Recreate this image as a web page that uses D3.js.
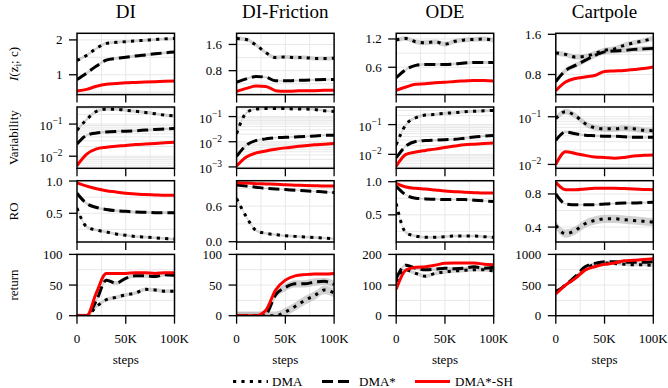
<!DOCTYPE html>
<html><head><meta charset="utf-8">
<script src="https://cdn.jsdelivr.net/npm/d3@7"></script>
<style>body{margin:0;background:#fff} svg text{font-family:'Liberation Serif','DejaVu Serif',serif;fill:#000}</style>
</head><body><svg id="c" width="668" height="388" font-family="Liberation Serif, DejaVu Serif, serif"></svg>
<script>
// ---------------- data ----------------
const envs = ["DI", "DI-Friction", "ODE", "Cartpole"];
const methods = ["DMA", "DMA*", "DMA*-SH"];
const stepsK = [0, 10, 20, 30, 40, 50, 60, 70, 80, 90, 100];
const xTickVals = [0, 50, 100];
const xTickLabels = ["0", "50K", "100K"];
const xLabel = "steps";

// I(z_i; c)  [DMA, DMA*, DMA*-SH]
const I_DI  = [[1.41,1.56,1.76,1.9,1.93,1.95,1.97,1.99,2.01,2.03,2.04],
               [0.86,1.05,1.25,1.42,1.47,1.5,1.54,1.57,1.6,1.63,1.65],
               [0.53,0.58,0.67,0.73,0.75,0.77,0.78,0.79,0.8,0.81,0.82]];
const I_DIF = [[1.78,1.75,1.58,1.35,1.2,1.22,1.2,1.2,1.17,1.17,1.18],
               [0.45,0.55,0.62,0.6,0.49,0.49,0.5,0.51,0.52,0.53,0.53],
               [0.17,0.26,0.33,0.32,0.19,0.17,0.18,0.19,0.19,0.2,0.2]];
const I_ODE = [[1.18,1.21,1.14,1.12,1.14,1.09,1.15,1.18,1.19,1.2,1.17],
               [0.38,0.55,0.64,0.66,0.66,0.66,0.67,0.69,0.7,0.7,0.7],
               [0.11,0.18,0.24,0.25,0.27,0.28,0.3,0.31,0.32,0.32,0.31]];
const I_CP  = [[1.23,1.2,1.15,1.16,1.22,1.28,1.31,1.38,1.43,1.47,1.52],
               [0.66,0.88,0.98,1.08,1.18,1.25,1.27,1.28,1.3,1.31,1.32],
               [0.48,0.65,0.72,0.75,0.78,0.86,0.87,0.88,0.9,0.92,0.95]];

// Variability
const V_DI  = [[0.064,0.14,0.25,0.29,0.29,0.27,0.25,0.23,0.21,0.19,0.18],
               [0.024,0.045,0.053,0.057,0.059,0.06,0.062,0.065,0.068,0.07,0.073],
               [0.0051,0.0116,0.0168,0.019,0.0205,0.0215,0.023,0.024,0.025,0.026,0.027]];
const V_DIF = [[0.021,0.14,0.2,0.21,0.21,0.21,0.2,0.2,0.19,0.17,0.16],
               [0.0026,0.0073,0.0112,0.013,0.0145,0.015,0.0155,0.016,0.017,0.018,0.018],
               [0.0011,0.0025,0.0036,0.0043,0.005,0.0057,0.0063,0.007,0.0076,0.008,0.0085]];
const V_ODE = [[0.021,0.1,0.17,0.21,0.22,0.24,0.25,0.27,0.28,0.29,0.3],
               [0.0077,0.019,0.027,0.029,0.03,0.031,0.032,0.035,0.038,0.041,0.043],
               [0.004,0.01,0.012,0.0135,0.015,0.017,0.019,0.021,0.022,0.023,0.024]];
const V_CP  = [[0.092,0.128,0.105,0.072,0.059,0.056,0.056,0.058,0.056,0.052,0.051],
               [0.032,0.048,0.044,0.041,0.04,0.039,0.039,0.038,0.037,0.037,0.037],
               [0.01,0.0184,0.017,0.0155,0.0143,0.014,0.0135,0.014,0.015,0.0155,0.0158]];

// RO
const RO_DI  = [[0.58,0.29,0.24,0.21,0.18,0.16,0.14,0.13,0.12,0.11,0.1],
                [0.81,0.65,0.59,0.56,0.54,0.53,0.52,0.515,0.51,0.51,0.51],
                [0.97,0.92,0.88,0.85,0.83,0.81,0.8,0.79,0.785,0.78,0.78]];
const RO_DIF = [[0.73,0.42,0.19,0.14,0.12,0.1,0.09,0.08,0.07,0.06,0.05],
                [0.957,0.94,0.92,0.9,0.89,0.88,0.87,0.86,0.85,0.84,0.83],
                [0.996,0.99,0.98,0.975,0.97,0.96,0.955,0.95,0.945,0.94,0.94]];
const RO_ODE = [[0.67,0.23,0.18,0.16,0.16,0.17,0.18,0.18,0.18,0.17,0.16],
                [0.93,0.8,0.75,0.74,0.735,0.73,0.73,0.73,0.72,0.71,0.7],
                [0.975,0.92,0.9,0.89,0.875,0.86,0.85,0.84,0.835,0.83,0.83]];
const RO_CP  = [[0.42,0.32,0.36,0.44,0.48,0.5,0.5,0.49,0.48,0.47,0.46],
                [0.8,0.68,0.67,0.67,0.67,0.68,0.685,0.69,0.69,0.695,0.7],
                [0.94,0.85,0.85,0.86,0.87,0.87,0.87,0.865,0.86,0.855,0.85]];

// return
const R_DI  = [[0,0,15,26,30,34,37,43,42,40,40],
               [0,0,25,58,53,61,65,65,64,67,66],
               [0,0,38,69,69,69,70,70,69,70,70]];
const R_DIF = [[0,0,0,0,0,6,15,25,33,42,37],
               [0,0,0,3,34,46,52,52,55,56,51],
               [0,0,0,9,42,58,65,67,68,68,69]];
const R_ODE = [[111,149,138,129,138,143,146,148,150,150,146],
               [122,165,155,150,152,155,153,155,160,155,158],
               [86,149,158,160,165,171,172,172,172,168,166]];
const R_CP  = [[390,500,620,760,840,860,850,840,830,830,820],
               [390,500,640,798,853,880,880,875,870,870,880],
               [354,500,609,744,799,837,860,896,905,915,928]];

// band half-widths (log row: multiplicative factor)
const BAND_I  = [[0.04,0.04,0.01],[0.06,0.03,0.01],[0.05,0.03,0.01],[0.05,0.05,0.01]];
const BAND_V  = [[1.12,1.08,1.03],[1.1,1.08,1.03],[1.12,1.08,1.03],[1.15,1.06,1.03]];
const BAND_RO = [[0.02,0.02,0.005],[0.02,0.01,0.005],[0.02,0.01,0.005],[0.05,0.01,0.005]];
const BAND_R  = [[3,3,1],[7,6,2],[6,5,2],[25,15,8]];

// axis ticks / domains
const TICKS_I  = [[1,2],[0.8,1.6],[0.6,1.2],[0.8,1.6]];
const LABS_I   = [["1","2"],["0.8","1.6"],["0.6","1.2"],["0.8","1.6"]];
const DOM_I    = [[0.43,2.19],[0.07,1.94],[0.02,1.32],[0.4,1.62]];
const TICKS_V  = [[0.01,0.1],[0.001,0.01,0.1],[0.01,0.1],[0.01,0.1]];
const DOM_V    = [[0.0042,0.34],[0.00088,0.24],[0.0034,0.39],[0.0083,0.16]];
const TICKS_RO = [[0.5,1.0],[0.0,0.6],[0.5,1.0],[0.4,0.8]];
const LABS_RO  = [["0.5","1.0"],["0.0","0.6"],["0.5","1.0"],["0.4","0.8"]];
const DOM_RO   = [[0.055,1.005],[-0.005,1.03],[0.09,1.015],[0.22,0.96]];
const TICKS_R  = [[0,50,100],[0,50,100],[0,100,200],[0,500,1000]];
const LABS_R   = [["0","50","100"],["0","50","100"],["0","100","200"],["0","500","1000"]];
const DOM_R    = [[0,100],[0,100],[0,200],[0,1000]];

const rows = [
  {data:[I_DI,I_DIF,I_ODE,I_CP], band:BAND_I, ticks:TICKS_I, labs:LABS_I, dom:DOM_I, log:false},
  {data:[V_DI,V_DIF,V_ODE,V_CP], band:BAND_V, ticks:TICKS_V, labs:null, dom:DOM_V, log:true},
  {data:[RO_DI,RO_DIF,RO_ODE,RO_CP], band:BAND_RO, ticks:TICKS_RO, labs:LABS_RO, dom:DOM_RO, log:false},
  {data:[R_DI,R_DIF,R_ODE,R_CP], band:BAND_R, ticks:TICKS_R, labs:LABS_R, dom:DOM_R, log:false}
];

// ---------------- layout / style ----------------
const FONT = "Liberation Serif, DejaVu Serif, serif";
const svg = d3.select("#c");
const colLeft = [77, 236.6, 396.2, 555.8];
const rowTop = [33.3, 107.0, 180.7, 254.4];
const W = 97.5, H = 61.3;
const styles = [
  {stroke:"#000", dash:"3.2,5.2", w:3, band:"#b4b4b4", bo:0.6},
  {stroke:"#000", dash:"11,5", w:3, band:"#b4b4b4", bo:0.6},
  {stroke:"#ff0000", dash:null, w:3, band:"#ff8080", bo:0.45}
];
const gridColor = "#e8e8e8";
const x = d3.scaleLinear().domain([0,100]).range([0,W]);

function txt(sel) { return sel.append("text").attr("font-family", FONT).attr("fill", "#000"); }

let clipId = 0;
rows.forEach((row, ri) => {
  envs.forEach((env, ci) => {
    const g = svg.append("g").attr("transform", `translate(${colLeft[ci]},${rowTop[ri]})`);
    const dom = row.dom[ci];
    const y = (row.log ? d3.scaleLog() : d3.scaleLinear()).domain(dom).range([H,0]);

    const xg = [25,50,75];
    let yg = [];
    if (row.log) {
      const e0 = Math.floor(Math.log10(dom[0])), e1 = Math.ceil(Math.log10(dom[1]));
      for (let e = e0; e <= e1; e++) for (let k = 1; k <= 9; k++) {
        const v = k * Math.pow(10, e);
        if (v > dom[0] && v < dom[1]) yg.push(v);
      }
    } else {
      const t = row.ticks[ci];
      const half = (t[1]-t[0])/2;
      for (let v = Math.ceil(dom[0]/half - 1e-9)*half; v <= dom[1]+1e-9; v += half) yg.push(v);
    }
    g.selectAll(".gx").data(xg).join("line").attr("x1",d=>x(d)).attr("x2",d=>x(d))
      .attr("y1",0).attr("y2",H).attr("stroke",gridColor).attr("stroke-width",1);
    g.selectAll(".gy").data(yg).join("line").attr("y1",d=>y(d)).attr("y2",d=>y(d))
      .attr("x1",0).attr("x2",W).attr("stroke",gridColor).attr("stroke-width",1);

    const cid = "clip" + (clipId++);
    g.append("clipPath").attr("id",cid).append("rect").attr("x",0).attr("y",0).attr("width",W).attr("height",H);
    const pg = g.append("g").attr("clip-path",`url(#${cid})`);

    const series = row.data[ci];
    const bands = row.band[ci];
    series.forEach((vals, si) => {
      const b = bands[si];
      const area = d3.area().curve(d3.curveMonotoneX)
        .x((d,i)=>x(stepsK[i]))
        .y0(d => row.log ? y(d/b) : y(d-b))
        .y1(d => row.log ? y(d*b) : y(d+b));
      pg.append("path").attr("d", area(vals)).attr("fill", styles[si].band).attr("opacity", styles[si].bo);
    });
    series.forEach((vals, si) => {
      const line = d3.line().curve(d3.curveMonotoneX).x((d,i)=>x(stepsK[i])).y(d=>y(d));
      const p = pg.append("path").attr("d", line(vals)).attr("fill","none")
        .attr("stroke", styles[si].stroke).attr("stroke-width", styles[si].w);
      if (styles[si].dash) p.attr("stroke-dasharray", styles[si].dash);
    });

    g.append("rect").attr("x",0).attr("y",0).attr("width",W).attr("height",H)
      .attr("fill","none").attr("stroke","#000").attr("stroke-width",1.5);

    const ticks = row.ticks[ci];
    ticks.forEach((t, ti) => {
      g.append("line").attr("x1",-8).attr("x2",0).attr("y1",y(t)).attr("y2",y(t))
        .attr("stroke","#000").attr("stroke-width",1.3);
      const tx = txt(g).attr("x",-14.5).attr("y",y(t)+4.5)
        .attr("text-anchor","end").attr("font-size",13);
      if (row.log) {
        const e = Math.round(Math.log10(t));
        tx.attr("y", y(t)+6);
        tx.append("tspan").text("10");
        tx.append("tspan").attr("dy",-6).attr("font-size",9.5).text("\u2212" + Math.abs(e));
      } else {
        tx.text(row.labs[ci][ti]);
      }
    });
    xTickVals.forEach((t, ti) => {
      g.append("line").attr("x1",x(t)).attr("x2",x(t)).attr("y1",H).attr("y2",H+8)
        .attr("stroke","#000").attr("stroke-width",1.3);
      if (ri === 3) {
        txt(g).attr("x",x(t)).attr("y",H+27.5).attr("text-anchor","middle")
          .attr("font-size",13).text(xTickLabels[ti]);
      }
    });
    if (ri === 3) {
      txt(g).attr("x",W/2).attr("y",H+48.5).attr("text-anchor","middle")
        .attr("font-size",13).text(xLabel);
    }
    if (ri === 0) {
      txt(g).attr("x",W/2).attr("y",-15).attr("text-anchor","middle")
        .attr("font-size",19).text(env);
    }
  });
});

// row labels
const rowLabelX = 18;
rows.forEach((row, ri) => {
  const cy = rowTop[ri] + H/2;
  const t = txt(svg).attr("transform",`translate(${rowLabelX},${cy}) rotate(-90)`)
    .attr("text-anchor","middle").attr("font-size",13);
  if (ri === 0) {
    t.append("tspan").attr("font-style","italic").text("I");
    t.append("tspan").text("(z");
    t.append("tspan").attr("dy",3).attr("font-size",9.5).text("i");
    t.append("tspan").attr("dy",-3).text("; c)");
  } else {
    t.text(["", "Variability", "RO", "return"][ri]);
  }
});

// legend
const legY = 381.5;
const legItems = [
  {x1:233, x2:268, tx:272},
  {x1:322, x2:354, tx:359},
  {x1:415, x2:450, tx:455}
];
methods.forEach((m, i) => {
  const L = legItems[i];
  const ln = svg.append("line").attr("x1",L.x1).attr("x2",L.x2).attr("y1",legY).attr("y2",legY)
    .attr("stroke",styles[i].stroke).attr("stroke-width",styles[i].w);
  if (styles[i].dash) ln.attr("stroke-dasharray", styles[i].dash);
  txt(svg).attr("x",L.tx).attr("y",legY+4.5).attr("font-size",13).text(m);
});
</script>
</body></html>
